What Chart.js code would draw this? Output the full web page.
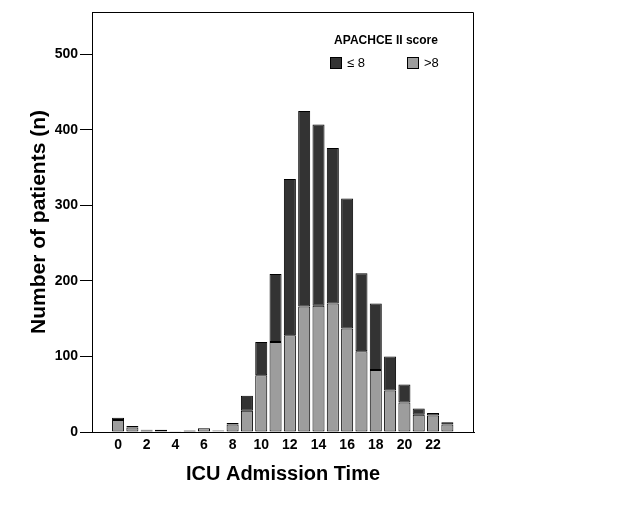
<!DOCTYPE html>
<html><head><meta charset="utf-8">
<script src="https://cdn.jsdelivr.net/npm/chart.js@4.4.1/dist/chart.umd.min.js"></script>
<style>html,body{margin:0;padding:0;background:#fff}canvas{display:block}</style>
</head><body>
<canvas id="c" width="633" height="508"></canvas>
<script>
// ---- data ----
const hours = [0,1,2,3,4,5,6,7,8,9,10,11,12,13,14,15,16,17,18,19,20,21,22,23];
const scoreLow  = [3,2,1,0,1,0,0,1,2,20,44,90,207,259,240,206,172,103,88,45,24,8,3,3];      // APACHE II <= 8
const scoreHigh = [16,6,2,3,0,2,5,1,10,28,75,119,128,166,167,170,137,107,82,55,39,23,22,10]; // APACHE II > 8
const seriesNames = ['\u2264 8', '>8'];
const xTickValues = [0,2,4,6,8,10,12,14,16,18,20,22];
const yTickValues = [0,100,200,300,400,500];
const legendTitle = 'APACHCE II score';
const xTitle = 'ICU Admission Time';
const yTitle = 'Number of patients (n)';

const FONT = "'Liberation Sans', Arial, sans-serif";
const DARK = '#333333', GRAY = '#9d9d9d';
Chart.defaults.font.family = FONT;
Chart.defaults.color = '#000';

const framePlugin = {
  id: 'frame',
  afterDatasetsDraw(chart) {
    const {ctx, chartArea: a} = chart;
    ctx.save();
    ctx.strokeStyle = '#000'; ctx.lineWidth = 1;
    ctx.beginPath();
    ctx.moveTo(a.left, a.top + 0.5);
    ctx.lineTo(a.right - 0.5, a.top + 0.5);
    ctx.lineTo(a.right - 0.5, a.bottom);
    ctx.stroke();
    ctx.restore();
  },
  afterDraw(chart) {
    const ctx = chart.ctx;
    ctx.save();
    ctx.fillStyle = '#000';
    ctx.font = 'bold 12px ' + FONT;
    ctx.textAlign = 'center'; ctx.textBaseline = 'middle';
    ctx.fillText(legendTitle, 386, 41);
    const items = [{c: DARK, x: 330, t: seriesNames[0]}, {c: GRAY, x: 407, t: seriesNames[1]}];
    ctx.font = '13px ' + FONT;
    ctx.textAlign = 'left';
    items.forEach(it => {
      ctx.fillStyle = it.c;
      ctx.fillRect(it.x, 57, 12, 12);
      ctx.strokeStyle = '#000'; ctx.lineWidth = 1;
      ctx.strokeRect(it.x + 0.5, 57.5, 11, 11);
      ctx.fillStyle = '#000';
      ctx.fillText(it.t, it.x + 17, 63.5);
    });
    ctx.restore();
  }
};

new Chart(document.getElementById('c'), {
  type: 'bar',
  data: {
    datasets: [
      { label: seriesNames[1], data: hours.map((h, i) => ({x: h, y: scoreHigh[i]})),
        backgroundColor: GRAY, borderColor: '#000', borderWidth: 1, borderSkipped: false },
      { label: seriesNames[0], data: hours.map((h, i) => ({x: h, y: scoreLow[i]})),
        backgroundColor: DARK, borderColor: '#000', borderWidth: 1, borderSkipped: false }
    ]
  },
  options: {
    responsive: false,
    devicePixelRatio: 1,
    animation: false,
    categoryPercentage: 1,
    barPercentage: 0.84,
    layout: { padding: { top: 12, right: 159, left: 0, bottom: 0 } },
    plugins: { legend: { display: false }, tooltip: { enabled: false } },
    scales: {
      x: {
        type: 'linear', stacked: true, offset: false,
        min: -1.82, max: 24.86,
        grid: { display: false },
        border: { display: true, color: '#000', width: 1 },
        ticks: { autoSkip: false, maxRotation: 0, padding: -3, font: { size: 14, weight: 'bold' }, color: '#000' },
        afterBuildTicks: s => { s.ticks = xTickValues.map(v => ({value: v})); },
        afterFit: s => { s.height = 76; },
        title: { display: true, text: xTitle, font: { size: 20, weight: 'bold' }, color: '#000', padding: { top: 0, bottom: 22 } }
      },
      y: {
        type: 'linear', stacked: true,
        min: 0, max: 556,
        grid: { display: true, drawOnChartArea: false, drawTicks: true, tickLength: 12, color: '#000' },
        border: { display: true, color: '#000', width: 1 },
        ticks: { padding: 2, font: { size: 14, weight: 'bold' }, color: '#000' },
        afterBuildTicks: s => { s.ticks = yTickValues.map(v => ({value: v})); },
        afterFit: s => { s.width = 92; },
        title: { display: true, text: yTitle, font: { size: 21, weight: 'bold' }, color: '#000', padding: { top: 27, bottom: 0 } }
      }
    }
  },
  plugins: [framePlugin]
});
</script>
</body></html>
